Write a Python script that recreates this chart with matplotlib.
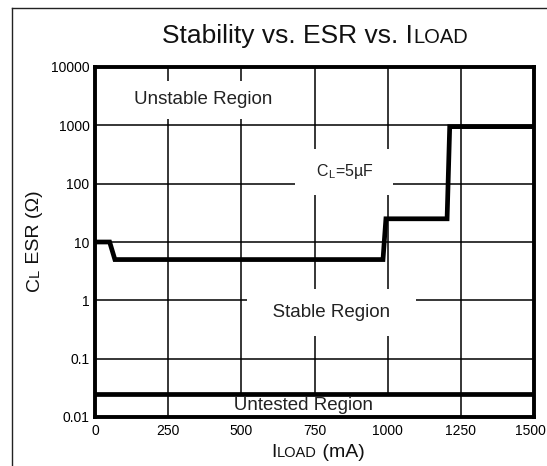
import matplotlib
matplotlib.use("Agg")
import matplotlib.pyplot as plt
import matplotlib.transforms as mtransforms
from matplotlib.lines import Line2D

plt.rcParams['font.family'] = ['Liberation Sans', 'DejaVu Sans']
plt.rcParams['mathtext.fontset'] = 'custom'
plt.rcParams['mathtext.rm'] = 'Liberation Sans'
plt.rcParams['mathtext.it'] = 'Liberation Sans'

# data
load_ma = [0, 50, 68, 984, 994, 1203, 1212, 1500]
esr_ohm = [10, 10, 5, 5, 25, 25, 950, 950]
untested_esr = 0.025

x_ticks = [0, 250, 500, 750, 1000, 1250, 1500]
y_ticks = [0.01, 0.1, 1, 10, 100, 1000, 10000]
y_tick_labels = ['0.01', '0.1', '1', '10', '100', '1000', '10000']

W, H = 547, 466
fig = plt.figure(figsize=(W / 100, H / 100), dpi=100)
ax = fig.add_axes([95 / W, 1 - 417 / H, (534 - 95) / W, (417 - 67) / H])

ax.set_yscale('log')
ax.set_xlim(0, 1500)
ax.set_ylim(0.01, 10000)
ax.set_xticks(x_ticks)
ax.set_xticklabels([str(v) for v in x_ticks])
ax.set_yticks(y_ticks)
ax.set_yticklabels(y_tick_labels)
ax.minorticks_off()
ax.tick_params(axis='both', length=0, labelsize=10)
ax.tick_params(axis='y', pad=4)
ax.tick_params(axis='x', pad=5)

# last x label sits against the right edge, like the original
last = ax.get_xticklabels()[-1]
last.set_horizontalalignment('right')
last.set_transform(last.get_transform() +
                   mtransforms.ScaledTranslation(12 / 100, 0, fig.dpi_scale_trans))

ax.set_axisbelow(True)
ax.grid(True, color='black', lw=1.1)
for s in ax.spines.values():
    s.set_linewidth(2.8)

# curves
ax.plot(load_ma, esr_ohm, color='black', lw=3.4, zorder=4, solid_joinstyle='miter')
ax.axhline(untested_esr, color='black', lw=3.4, zorder=4)

# region labels with white boxes that break the grid
def region(x, y, txt, pad, size=13.5):
    ax.text(x, y, txt, ha='center', va='center', fontsize=size, color='#222222',
            zorder=2, bbox=dict(boxstyle='square,pad=%s' % pad, fc='white', ec='none'))

region(370, 2750, 'Unstable Region', 0.55)
region(808, 0.62, '  Stable Region  ', 0.8)
region(712, 0.0158, '       Untested Region       ', 0.12)
region(850, 160, '  C$_\\mathrm{L}$=5µF  ', 0.85, size=11.5)

# text made of pieces with different sizes (small caps look)
renderer = fig.canvas.get_renderer()

def mixed(pieces, cx, cy, rotation=0):
    widths = []
    for txt, size in pieces:
        t = fig.text(0, 0, txt, fontsize=size)
        bb = t.get_window_extent(renderer)
        widths.append(bb.width)
        t.remove()
    total = sum(widths)
    pos = -total / 2
    for (txt, size), w in zip(pieces, widths):
        if rotation == 0:
            px, py = cx + pos, cy
        else:
            px, py = cx, cy + pos
        fig.text(px / W, py / H, txt, fontsize=size, rotation=rotation,
                 rotation_mode='anchor', ha='left', va='baseline', color='#111111')
        pos += w

mixed([('Stability vs. ESR vs. I', 19), ('LOAD', 14.5)], 315, H - 43)
mixed([('I', 14), ('LOAD', 10.5), (' (mA)', 14)], 318, H - 457)
mixed([('C', 14), ('L', 10.5), (' ESR (Ω)', 14)], 39, H - 241, rotation=90)

# outer frame
fig.add_artist(Line2D([12 / W, 12 / W], [0, 1 - 8 / H], transform=fig.transFigure,
                      color='#222222', lw=1.0))
fig.add_artist(Line2D([12 / W, 1], [1 - 8 / H, 1 - 8 / H], transform=fig.transFigure,
                      color='#222222', lw=1.0))

fig.savefig('out.png', dpi=100)
